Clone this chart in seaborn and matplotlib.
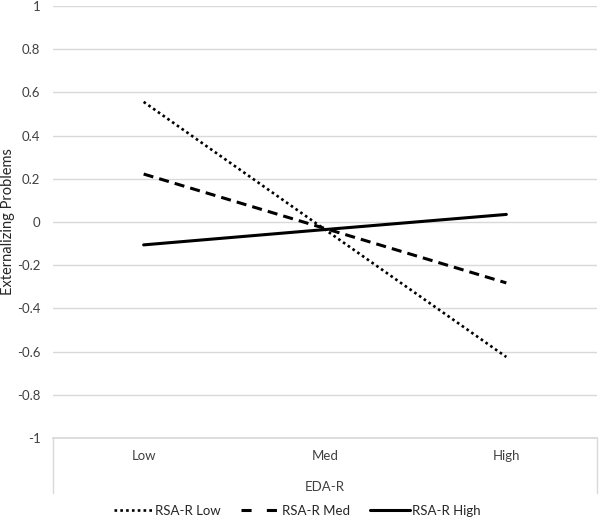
import numpy as np
import pandas as pd
import seaborn as sns
import matplotlib.pyplot as plt
from matplotlib.lines import Line2D

categories = ["Low", "Med", "High"]
rsa_low = [0.556, -0.035, -0.625]
rsa_med = [0.222, -0.030, -0.282]
rsa_high = [-0.106, -0.035, 0.035]
series_names = ["RSA-R Low", "RSA-R Med", "RSA-R High"]

sns.set_theme(style="white")
plt.rcParams["font.family"] = ["Lato", "DejaVu Sans"]

df = pd.DataFrame({
    "pos": list(range(len(categories))) * 3,
    "value": rsa_low + rsa_med + rsa_high,
    "series": [s for s in series_names for _ in categories],
})

fig = plt.figure(figsize=(6, 5.2), dpi=100)
ax = fig.add_axes([0.0883, 0.1577, 0.9067, 0.8308])

styles = {
    "RSA-R Low": dict(dashes=(1, 1.2), lw=1.9),
    "RSA-R Med": dict(dashes=(3.3, 2.0), lw=2.2),
    "RSA-R High": dict(dashes=None, lw=2.2),
}
legend_dashes = {"RSA-R Low": (1, 1.2), "RSA-R Med": (3.3, 5.0), "RSA-R High": None}
handles = []
for name in series_names:
    st = styles[name]
    sub = df[df["series"] == name]
    sns.lineplot(data=sub, x="pos", y="value", ax=ax, color="black",
                 linewidth=st["lw"], legend=False)
    ln = ax.lines[-1]
    if st["dashes"] is not None:
        ln.set_dashes(st["dashes"])
        ln.set_dash_capstyle("butt")
    h = Line2D([], [], color="black", lw=st["lw"])
    if legend_dashes[name] is not None:
        h.set_dashes(legend_dashes[name])
    handles.append(h)

ax.set_xlim(-0.5, 2.5)
ax.set_ylim(-1, 1)
ax.set_yticks(np.round(np.arange(-1, 1.01, 0.2), 1))
ax.set_yticklabels(["-1", "-0.8", "-0.6", "-0.4", "-0.2", "0", "0.2", "0.4", "0.6", "0.8", "1"])
ax.yaxis.grid(True, color="#d9d9d9", lw=1)
ax.set_axisbelow(True)
ax.tick_params(axis="y", length=0, pad=9, labelsize=9.5, labelcolor="#404040")
ax.set_xticks([])
ax.set_xlabel("")
ax.set_ylabel("Externalizing Problems", fontsize=10.5, color="#262626")
ax.yaxis.set_label_coords(-0.07, 0.5)
for s in ["top", "right", "left"]:
    ax.spines[s].set_visible(False)
ax.spines["bottom"].set_color("#d9d9d9")

# category box below the axis
for xf in [0.0883, 0.995]:
    fig.add_artist(Line2D([xf, xf], [0.1577, 0.052], color="#d9d9d9", lw=1,
                          transform=fig.transFigure))
for i, c in enumerate(categories):
    ax.text(i, -1.085, c, ha="center", va="center", fontsize=9.5,
            color="#404040", transform=ax.transData, clip_on=False)
fig.text(325 / 600, 1 - 487 / 520, "EDA-R", ha="center", va="center",
         fontsize=9.5, color="#404040")

fig.legend(handles, series_names, loc="center", bbox_to_anchor=(0.495, 1 - 511 / 520),
           ncol=3, frameon=False, fontsize=9.5, handlelength=3.0,
           handletextpad=0.15, columnspacing=1.5)

fig.savefig("out.png", dpi=100)
